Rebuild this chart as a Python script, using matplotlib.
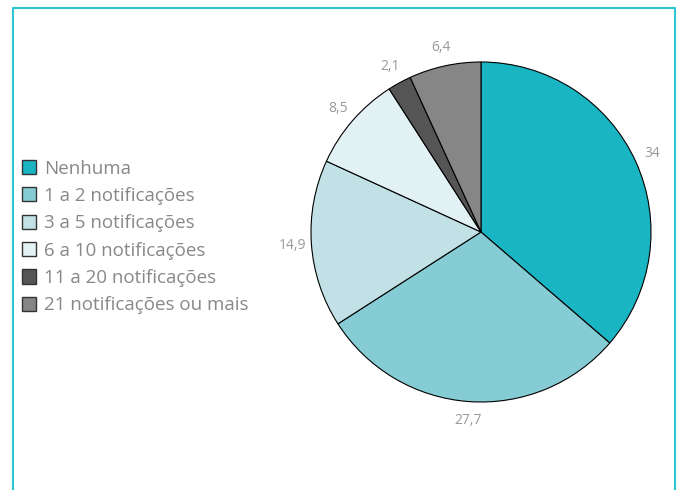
import matplotlib
matplotlib.use('Agg')
import matplotlib.pyplot as plt
from matplotlib.lines import Line2D

plt.rcParams['font.family'] = ['Open Sans', 'DejaVu Sans']

categorias = ['Nenhuma', '1 a 2 notificações', '3 a 5 notificações',
              '6 a 10 notificações', '11 a 20 notificações', '21 notificações ou mais']
valores = [34, 27.7, 14.9, 8.5, 2.1, 6.4]
cores = ['#1ab5c3', '#86ccd5', '#c1e1e6', '#e2f1f4', '#555555', '#868686']

rotulos = [f'{v:g}'.replace('.', ',') for v in valores]

W, H = 677, 490
fig = plt.figure(figsize=(W / 100, H / 100), dpi=100)

# pie centred at (481, 232) px, radius 170 px
cx, cy, r = 481, 232, 170
ax = fig.add_axes([(cx - r) / W, (H - cy - r) / H, 2 * r / W, 2 * r / H])
wedges, textos = ax.pie(valores, colors=cores, labels=rotulos, startangle=90,
                        counterclock=False, labeldistance=1.11,
                        wedgeprops=dict(edgecolor='black', linewidth=0.8),
                        textprops=dict(color='#999999', fontsize=10))
for t in textos:
    t.set_ha('center')
    t.set_va('center')
ax.set_xlim(-1, 1)
ax.set_ylim(-1, 1)

fig.legend(wedges, categorias, loc='center left',
           bbox_to_anchor=(14 / W, 1 - 237 / H), frameon=False,
           fontsize=13.5, labelcolor='#888888', handlelength=0.78, handleheight=0.78,
           handletextpad=0.4, labelspacing=0.5, borderaxespad=0)
for h in fig.legends[0].legend_handles:
    h.set_edgecolor('#333333')
    h.set_linewidth(1)

# cyan frame (open at bottom)
borda = Line2D([13 / W, 13 / W, 675 / W, 675 / W],
               [0, 1 - 8 / H, 1 - 8 / H, 0],
               transform=fig.transFigure, color='#2bc4cf', linewidth=1.5)
fig.add_artist(borda)

fig.savefig('out.png', dpi=100)
